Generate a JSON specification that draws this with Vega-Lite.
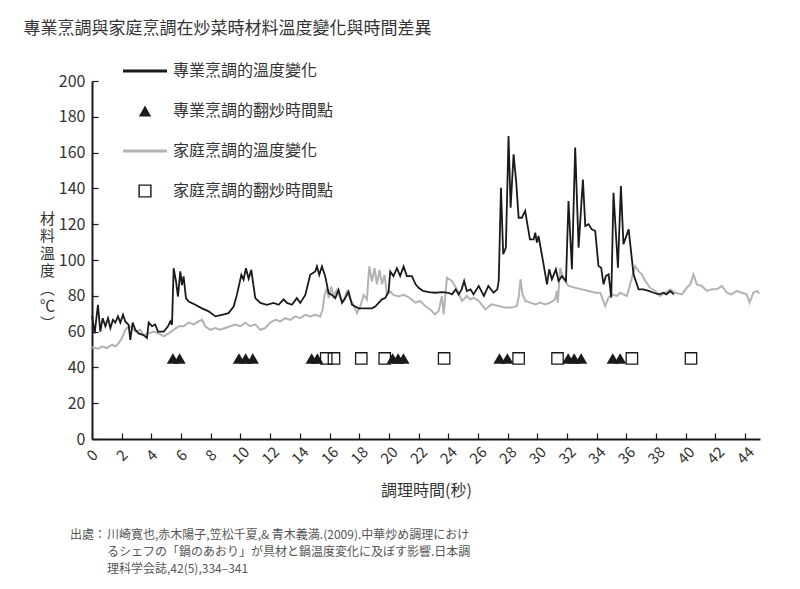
{
  "$schema": "https://vega.github.io/schema/vega-lite/v6.json",
  "padding": {"left": 23, "top": 20, "right": 10, "bottom": 10},
  "config": {
    "font": "Noto Sans CJK TC",
    "view": {"stroke": null},
    "axis": {"grid": false, "labelOverlap": false, "labelBound": false},
    "axisY": {
      "titleAngle": 0,
      "titleAlign": "center",
      "titleBaseline": "middle",
      "titleX": -45,
      "titleY": 137,
      "titleLineHeight": 17.5,
      "titleFontSize": 15,
      "titleFontWeight": "normal",
      "titleColor": "#333333",
      "labelFontSize": 16,
      "labelColor": "#333333",
      "labelPadding": 13,
      "tickSize": -6,
      "tickColor": "#1a1a1a",
      "tickWidth": 1.2,
      "domainColor": "#1a1a1a",
      "domainWidth": 2
    }
  },
  "title": {
    "text": "專業烹調與家庭烹調在炒菜時材料溫度變化與時間差異",
    "anchor": "start",
    "fontSize": 17,
    "fontWeight": "normal",
    "color": "#333333",
    "dx": -16,
    "offset": 13
  },
  "bounds": "flush",
  "spacing": 87,
  "datasets": {
    "pro": [
      {"t": 0.0, "temp": 69}, {"t": 0.18, "temp": 59}, {"t": 0.4, "temp": 75}, {"t": 0.56, "temp": 60},
      {"t": 0.72, "temp": 67.5}, {"t": 0.9, "temp": 63}, {"t": 1.08, "temp": 67.5}, {"t": 1.24, "temp": 62},
      {"t": 1.41, "temp": 66.6}, {"t": 1.57, "temp": 65}, {"t": 1.75, "temp": 68.5}, {"t": 1.91, "temp": 65},
      {"t": 2.09, "temp": 69.4}, {"t": 2.24, "temp": 65.7}, {"t": 2.47, "temp": 63.8}, {"t": 2.58, "temp": 55.4},
      {"t": 2.74, "temp": 65}, {"t": 2.92, "temp": 61}, {"t": 3.14, "temp": 59}, {"t": 3.48, "temp": 58},
      {"t": 3.7, "temp": 56.4}, {"t": 3.82, "temp": 65}, {"t": 4.04, "temp": 63}, {"t": 4.26, "temp": 64},
      {"t": 4.44, "temp": 60}, {"t": 4.83, "temp": 60}, {"t": 5.12, "temp": 63}, {"t": 5.28, "temp": 65.7},
      {"t": 5.39, "temp": 63.8}, {"t": 5.5, "temp": 95.4}, {"t": 5.66, "temp": 88}, {"t": 5.79, "temp": 79.6},
      {"t": 5.95, "temp": 93.6}, {"t": 6.06, "temp": 86}, {"t": 6.17, "temp": 90.8}, {"t": 6.33, "temp": 78.7},
      {"t": 6.51, "temp": 76.8}, {"t": 6.96, "temp": 75}, {"t": 7.41, "temp": 73}, {"t": 7.86, "temp": 71.3},
      {"t": 8.31, "temp": 68.5}, {"t": 8.75, "temp": 69.4}, {"t": 9.2, "temp": 70.3}, {"t": 9.54, "temp": 74},
      {"t": 9.76, "temp": 80.5}, {"t": 10.06, "temp": 91.7}, {"t": 10.21, "temp": 89}, {"t": 10.37, "temp": 95.4},
      {"t": 10.55, "temp": 89.6}, {"t": 10.73, "temp": 94.5}, {"t": 10.89, "temp": 85}, {"t": 11.0, "temp": 78.7},
      {"t": 11.34, "temp": 76}, {"t": 11.78, "temp": 75}, {"t": 12.23, "temp": 76}, {"t": 12.57, "temp": 75},
      {"t": 12.91, "temp": 78}, {"t": 13.13, "temp": 76}, {"t": 13.47, "temp": 75}, {"t": 13.8, "temp": 78.7},
      {"t": 14.03, "temp": 76}, {"t": 14.37, "temp": 80.5}, {"t": 14.7, "temp": 91.7}, {"t": 15.04, "temp": 93.6},
      {"t": 15.15, "temp": 96.4}, {"t": 15.31, "temp": 91.7}, {"t": 15.49, "temp": 96.4}, {"t": 15.71, "temp": 91},
      {"t": 15.94, "temp": 81.5}, {"t": 16.16, "temp": 80.5}, {"t": 16.39, "temp": 78.7}, {"t": 16.61, "temp": 83.3},
      {"t": 16.84, "temp": 76}, {"t": 17.06, "temp": 78.7}, {"t": 17.28, "temp": 82.4}, {"t": 17.51, "temp": 75},
      {"t": 17.96, "temp": 73}, {"t": 18.41, "temp": 73}, {"t": 18.86, "temp": 73}, {"t": 19.08, "temp": 74},
      {"t": 19.53, "temp": 78}, {"t": 19.75, "temp": 78.7}, {"t": 19.98, "temp": 82.4}, {"t": 20.09, "temp": 93.6},
      {"t": 20.31, "temp": 91}, {"t": 20.54, "temp": 95.4}, {"t": 20.76, "temp": 91}, {"t": 20.99, "temp": 96.4},
      {"t": 21.21, "temp": 91}, {"t": 21.55, "temp": 91}, {"t": 21.8, "temp": 86.4}, {"t": 22.0, "temp": 84.5},
      {"t": 22.3, "temp": 82.7}, {"t": 22.7, "temp": 82.1}, {"t": 23.1, "temp": 81.7}, {"t": 23.6, "temp": 82.1},
      {"t": 24.0, "temp": 81.7}, {"t": 24.25, "temp": 80.8}, {"t": 24.5, "temp": 83.6}, {"t": 24.7, "temp": 80.8},
      {"t": 24.9, "temp": 83.6}, {"t": 25.07, "temp": 88.3}, {"t": 25.25, "temp": 82.7}, {"t": 25.5, "temp": 83.6},
      {"t": 25.7, "temp": 80.8}, {"t": 26.05, "temp": 85.5}, {"t": 26.4, "temp": 79.9}, {"t": 26.7, "temp": 85.5},
      {"t": 27.05, "temp": 81.7}, {"t": 27.3, "temp": 83.6}, {"t": 27.4, "temp": 88.3}, {"t": 27.55, "temp": 140.4},
      {"t": 27.7, "temp": 103.2}, {"t": 27.88, "temp": 106.9}, {"t": 28.06, "temp": 169.3}, {"t": 28.2, "temp": 129.2},
      {"t": 28.4, "temp": 159}, {"t": 28.58, "temp": 143.2}, {"t": 28.74, "temp": 123.6}, {"t": 28.96, "temp": 123.6},
      {"t": 29.18, "temp": 127.4}, {"t": 29.5, "temp": 111.5}, {"t": 29.75, "temp": 111.5}, {"t": 29.86, "temp": 115.3},
      {"t": 29.97, "temp": 109.7}, {"t": 30.08, "temp": 113.4}, {"t": 30.3, "temp": 103.2}, {"t": 30.42, "temp": 97.6},
      {"t": 30.65, "temp": 86.4}, {"t": 30.8, "temp": 94.8}, {"t": 30.98, "temp": 89.2}, {"t": 31.25, "temp": 94.8},
      {"t": 31.43, "temp": 88.3}, {"t": 31.65, "temp": 91}, {"t": 31.93, "temp": 88.3}, {"t": 32.1, "temp": 133},
      {"t": 32.33, "temp": 94.8}, {"t": 32.55, "temp": 162.8}, {"t": 32.78, "temp": 106.9}, {"t": 33.07, "temp": 145},
      {"t": 33.23, "temp": 119}, {"t": 33.45, "temp": 120}, {"t": 33.67, "temp": 117.1}, {"t": 33.9, "temp": 116.2},
      {"t": 34.12, "temp": 96.6}, {"t": 34.3, "temp": 95.7}, {"t": 34.46, "temp": 86.4}, {"t": 34.62, "temp": 91},
      {"t": 34.8, "temp": 92}, {"t": 34.98, "temp": 79}, {"t": 35.13, "temp": 137.6}, {"t": 35.43, "temp": 95.7},
      {"t": 35.63, "temp": 141.3}, {"t": 35.8, "temp": 108.8}, {"t": 36.15, "temp": 117.1}, {"t": 36.48, "temp": 92},
      {"t": 36.82, "temp": 83.6}, {"t": 37.15, "temp": 83.6}, {"t": 37.5, "temp": 82.7}, {"t": 37.83, "temp": 81.7},
      {"t": 38.2, "temp": 80.8}, {"t": 38.5, "temp": 81.7}, {"t": 38.7, "temp": 80.8}, {"t": 38.95, "temp": 82.7},
      {"t": 39.2, "temp": 80.8}
    ],
    "home": [
      {"t": 0.0, "temp": 51.2}, {"t": 0.45, "temp": 50.4}, {"t": 0.67, "temp": 51.7}, {"t": 1.01, "temp": 50.8},
      {"t": 1.35, "temp": 52.7}, {"t": 1.57, "temp": 51.7}, {"t": 1.8, "temp": 53.6}, {"t": 2.02, "temp": 56.4},
      {"t": 2.24, "temp": 61}, {"t": 2.47, "temp": 63}, {"t": 2.69, "temp": 62}, {"t": 2.92, "temp": 60},
      {"t": 3.25, "temp": 61}, {"t": 3.48, "temp": 58}, {"t": 3.82, "temp": 59}, {"t": 4.15, "temp": 60},
      {"t": 4.49, "temp": 59}, {"t": 4.83, "temp": 57.3}, {"t": 5.16, "temp": 59}, {"t": 5.5, "temp": 61},
      {"t": 5.84, "temp": 63}, {"t": 6.17, "temp": 63}, {"t": 6.51, "temp": 65}, {"t": 6.85, "temp": 64},
      {"t": 7.18, "temp": 65.7}, {"t": 7.41, "temp": 66.6}, {"t": 7.63, "temp": 63}, {"t": 7.97, "temp": 61},
      {"t": 8.31, "temp": 62}, {"t": 8.64, "temp": 61}, {"t": 8.98, "temp": 62}, {"t": 9.31, "temp": 63},
      {"t": 9.65, "temp": 64}, {"t": 9.99, "temp": 63}, {"t": 10.33, "temp": 65}, {"t": 10.66, "temp": 63},
      {"t": 11.0, "temp": 64}, {"t": 11.34, "temp": 61}, {"t": 11.67, "temp": 62}, {"t": 12.01, "temp": 65},
      {"t": 12.35, "temp": 66.6}, {"t": 12.68, "temp": 65.7}, {"t": 13.02, "temp": 67.5}, {"t": 13.36, "temp": 66.6},
      {"t": 13.69, "temp": 68.5}, {"t": 14.03, "temp": 67.5}, {"t": 14.37, "temp": 69.4}, {"t": 14.7, "temp": 68.5},
      {"t": 15.04, "temp": 69.4}, {"t": 15.38, "temp": 68.5}, {"t": 15.53, "temp": 72}, {"t": 15.67, "temp": 80.5},
      {"t": 15.82, "temp": 84.3}, {"t": 15.94, "temp": 78.7}, {"t": 16.12, "temp": 85.2}, {"t": 16.27, "temp": 79.6},
      {"t": 16.5, "temp": 83.3}, {"t": 16.72, "temp": 78.7}, {"t": 16.95, "temp": 76.8}, {"t": 17.17, "temp": 82.4},
      {"t": 17.4, "temp": 78}, {"t": 17.62, "temp": 75}, {"t": 17.85, "temp": 70.3}, {"t": 18.07, "temp": 74},
      {"t": 18.3, "temp": 80.5}, {"t": 18.52, "temp": 78}, {"t": 18.68, "temp": 96.4}, {"t": 18.86, "temp": 88},
      {"t": 19.04, "temp": 95.4}, {"t": 19.19, "temp": 86.4}, {"t": 19.37, "temp": 94.5}, {"t": 19.53, "temp": 86.4},
      {"t": 19.71, "temp": 91.7}, {"t": 19.87, "temp": 80.5}, {"t": 20.09, "temp": 82.4}, {"t": 20.31, "temp": 80.5},
      {"t": 20.65, "temp": 79.6}, {"t": 20.99, "temp": 80.5}, {"t": 21.32, "temp": 79.3}, {"t": 21.78, "temp": 76.2},
      {"t": 22.1, "temp": 77.1}, {"t": 22.45, "temp": 74.3}, {"t": 22.79, "temp": 72.4}, {"t": 23.1, "temp": 69.6},
      {"t": 23.35, "temp": 71.5}, {"t": 23.57, "temp": 79.9}, {"t": 23.69, "temp": 69.6}, {"t": 23.91, "temp": 90.1},
      {"t": 24.25, "temp": 88.3}, {"t": 24.58, "temp": 83.6}, {"t": 24.92, "temp": 77.1}, {"t": 25.26, "temp": 79.9},
      {"t": 25.48, "temp": 78}, {"t": 25.7, "temp": 79}, {"t": 26.05, "temp": 77.1}, {"t": 26.5, "temp": 72.4},
      {"t": 26.9, "temp": 75.2}, {"t": 27.4, "temp": 74.3}, {"t": 27.84, "temp": 73.4}, {"t": 28.3, "temp": 73.4},
      {"t": 28.62, "temp": 74.3}, {"t": 28.74, "temp": 79}, {"t": 28.87, "temp": 89.2}, {"t": 29.0, "temp": 80.8},
      {"t": 29.2, "temp": 77.1}, {"t": 29.52, "temp": 76.2}, {"t": 29.86, "temp": 75.2}, {"t": 30.2, "temp": 76.2},
      {"t": 30.53, "temp": 75.2}, {"t": 30.87, "temp": 76.2}, {"t": 31.2, "temp": 78}, {"t": 31.32, "temp": 82.7},
      {"t": 31.38, "temp": 76.2}, {"t": 31.54, "temp": 95.7}, {"t": 31.77, "temp": 89.2}, {"t": 32.1, "temp": 85.5},
      {"t": 32.55, "temp": 84.5}, {"t": 33.0, "temp": 83.6}, {"t": 33.45, "temp": 82.7}, {"t": 33.9, "temp": 81.7},
      {"t": 34.24, "temp": 81.7}, {"t": 34.57, "temp": 74.3}, {"t": 34.8, "temp": 79}, {"t": 35.0, "temp": 80.8},
      {"t": 35.36, "temp": 79.9}, {"t": 35.58, "temp": 81.7}, {"t": 35.8, "temp": 80.8}, {"t": 36.03, "temp": 79.9},
      {"t": 36.37, "temp": 90.1}, {"t": 36.6, "temp": 96.6}, {"t": 36.82, "temp": 93.8}, {"t": 37.04, "temp": 92},
      {"t": 37.27, "temp": 88.3}, {"t": 37.6, "temp": 84.5}, {"t": 37.94, "temp": 82.7}, {"t": 38.28, "temp": 79.9},
      {"t": 38.62, "temp": 81.7}, {"t": 38.95, "temp": 83.6}, {"t": 39.3, "temp": 81.7}, {"t": 39.74, "temp": 80.8},
      {"t": 40.07, "temp": 84.5}, {"t": 40.3, "temp": 86.4}, {"t": 40.52, "temp": 92}, {"t": 40.75, "temp": 86.4},
      {"t": 41.08, "temp": 85.5}, {"t": 41.42, "temp": 82.7}, {"t": 41.76, "temp": 83.6}, {"t": 42.09, "temp": 83.6},
      {"t": 42.43, "temp": 85.5}, {"t": 42.77, "temp": 81.7}, {"t": 43.1, "temp": 80.8}, {"t": 43.44, "temp": 82.7},
      {"t": 43.78, "temp": 81.7}, {"t": 44.1, "temp": 80.8}, {"t": 44.3, "temp": 76.2}, {"t": 44.55, "temp": 81.7},
      {"t": 44.8, "temp": 82.7}, {"t": 44.95, "temp": 81.3}
    ],
    "proFlip": [
      {"t": 5.45}, {"t": 5.9}, {"t": 9.9}, {"t": 10.35}, {"t": 10.83}, {"t": 14.8}, {"t": 15.18},
      {"t": 20.25}, {"t": 20.62}, {"t": 20.98}, {"t": 27.45}, {"t": 27.98}, {"t": 32.08}, {"t": 32.48},
      {"t": 32.95}, {"t": 35.08}, {"t": 35.58}
    ],
    "homeFlip": [
      {"t": 15.78}, {"t": 16.3}, {"t": 18.14}, {"t": 19.72}, {"t": 23.72}, {"t": 28.74}, {"t": 31.36},
      {"t": 36.37}, {"t": 40.35}
    ],
    "source": [
      {"n": 1, "head": "出處：", "line": "川崎寛也,赤木陽子,笠松千夏,& 青木義満.(2009).中華炒め調理におけ"},
      {"n": 2, "head": "", "line": "るシェフの「鍋のあおり」が具材と鍋温度変化に及ぼす影響.日本調"},
      {"n": 3, "head": "", "line": "理科学会誌,42(5),334–341"}
    ]
  },
  "vconcat": [
    {
      "width": 668,
      "height": 358,
      "encoding": {
        "x": {
          "field": "t",
          "type": "quantitative",
          "scale": {"domain": [0, 45], "nice": false, "zero": false},
          "axis": {
            "title": "調理時間(秒)",
            "values": [0, 2, 4, 6, 8, 10, 12, 14, 16, 18, 20, 22, 24, 26, 28, 30, 32, 34, 36, 38, 40, 42, 44],
            "labelAngle": -45,
            "labelAlign": "center",
            "labelBaseline": "middle",
            "labelPadding": 22,
            "labelFontSize": 15,
            "labelColor": "#333333",
            "tickSize": -6,
            "tickColor": "#1a1a1a",
            "tickWidth": 1.2,
            "domainColor": "#1a1a1a",
            "domainWidth": 2,
            "titleFontSize": 16,
            "titleFontWeight": "normal",
            "titleColor": "#333333",
            "titlePadding": 16
          }
        }
      },
      "layer": [
        {
          "data": {"name": "home"},
          "mark": {"type": "line", "strokeWidth": 2},
          "encoding": {
            "y": {
              "field": "temp",
              "type": "quantitative",
              "scale": {"domain": [0, 200], "nice": false},
              "axis": {"title": ["材", "料", "溫", "度", "︵", "℃", "︶"], "values": [0, 20, 40, 60, 80, 100, 120, 140, 160, 180, 200], "labelOverlap": false}
            },
            "color": {
              "datum": "家庭烹調的溫度變化",
              "scale": {
                "domain": ["專業烹調的溫度變化", "專業烹調的翻炒時間點", "家庭烹調的溫度變化", "家庭烹調的翻炒時間點"],
                "range": ["#1a1a1a", "#1a1a1a", "#b3b3b3", "#1a1a1a"]
              },
              "legend": {
                "title": null,
                "orient": "none",
                "legendX": 31,
                "legendY": -30,
                "padding": 0,
                "symbolSize": 1936,
                "clipHeight": 40,
                "rowPadding": 0,
                "labelOffset": 6,
                "labelFontSize": 16,
                "labelColor": "#333333",
                "labelLimit": 300,
                "encode": {
                  "symbols": {
                    "update": {
                      "shape": {"signal": "datum.value === '專業烹調的翻炒時間點' ? 'M-0.28,0.25H0.28L0,-0.25Z' : datum.value === '家庭烹調的翻炒時間點' ? 'M-0.3,-0.3H0.3V0.3H-0.3Z M-0.235,-0.235V0.235H0.235V-0.235Z' : 'M-1,-0.07H1V0.07H-1Z'"},
                      "fill": {"signal": "scale('color', datum.value)"},
                      "stroke": {"value": "transparent"},
                      "strokeWidth": {"value": 0},
                      "opacity": {"value": 1}
                    }
                  }
                }
              }
            }
          }
        },
        {
          "data": {"name": "pro"},
          "mark": {"type": "line", "strokeWidth": 1.8},
          "encoding": {
            "y": {
              "field": "temp",
              "type": "quantitative",
              "axis": {"title": ["材", "料", "溫", "度", "︵", "℃", "︶"], "values": [0, 20, 40, 60, 80, 100, 120, 140, 160, 180, 200], "labelOverlap": false}
            },
            "color": {"datum": "專業烹調的溫度變化"}
          }
        },
        {
          "data": {"name": "proFlip"},
          "mark": {"type": "point", "filled": true, "opacity": 1, "size": 150, "shape": "M-1,0.85H1L0,-0.85Z"},
          "encoding": {
            "y": {
              "datum": 45,
              "type": "quantitative",
              "axis": {"title": ["材", "料", "溫", "度", "︵", "℃", "︶"], "values": [0, 20, 40, 60, 80, 100, 120, 140, 160, 180, 200], "labelOverlap": false}
            },
            "color": {"datum": "專業烹調的翻炒時間點"}
          }
        },
        {
          "data": {"name": "homeFlip"},
          "mark": {"type": "point", "filled": false, "opacity": 1, "size": 130, "shape": "square", "strokeWidth": 1.3},
          "encoding": {
            "y": {
              "datum": 45,
              "type": "quantitative",
              "axis": {"title": ["材", "料", "溫", "度", "︵", "℃", "︶"], "values": [0, 20, 40, 60, 80, 100, 120, 140, 160, 180, 200], "labelOverlap": false}
            },
            "color": {"datum": "家庭烹調的翻炒時間點"}
          }
        }
      ]
    },
    {
      "width": 668,
      "height": 52,
      "data": {"name": "source"},
      "encoding": {
        "y": {"field": "n", "type": "ordinal", "scale": {"type": "point", "padding": 0.5}, "axis": null},
        "x": {"value": 0}
      },
      "layer": [
        {
          "mark": {"type": "text", "align": "right", "baseline": "middle", "dx": 14, "fontSize": 12, "color": "#555555", "font": "Noto Sans CJK JP"},
          "encoding": {"text": {"field": "head"}}
        },
        {
          "mark": {"type": "text", "align": "left", "baseline": "middle", "dx": 15, "fontSize": 12, "color": "#555555", "font": "Noto Sans CJK JP"},
          "encoding": {"text": {"field": "line"}}
        }
      ]
    }
  ]
}
